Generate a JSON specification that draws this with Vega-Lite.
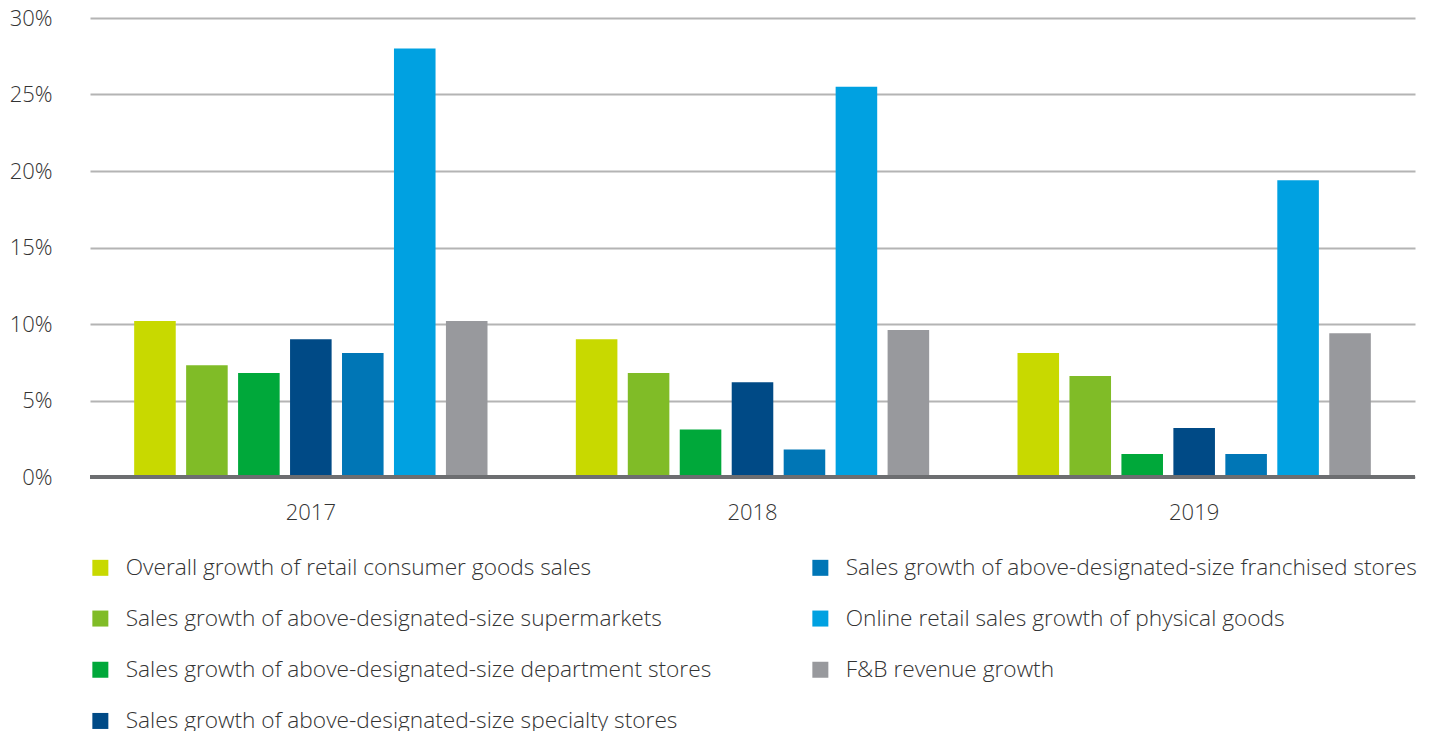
{
  "$schema": "https://vega.github.io/schema/vega-lite/v6.json",
  "width": 1325,
  "height": 459,
  "autosize": {"type": "none"},
  "padding": {"left": 90, "top": 18, "right": 22, "bottom": 254},
  "background": "white",
  "config": {
    "view": {"stroke": null},
    "font": "Open Sans",
    "axis": {"labelFont": "Open Sans", "labelFontWeight": 300, "labelColor": "#333333", "labelFontSize": 22}
  },
  "data": {
    "values": [
      {"year": "2017", "series": "Overall growth of retail consumer goods sales", "value": 10.2},
      {"year": "2017", "series": "Sales growth of above-designated-size supermarkets", "value": 7.3},
      {"year": "2017", "series": "Sales growth of above-designated-size department stores", "value": 6.8},
      {"year": "2017", "series": "Sales growth of above-designated-size specialty stores", "value": 9.0},
      {"year": "2017", "series": "Sales growth of above-designated-size franchised stores", "value": 8.1},
      {"year": "2017", "series": "Online retail sales growth of physical goods", "value": 28.0},
      {"year": "2017", "series": "F&B revenue growth", "value": 10.2},
      {"year": "2018", "series": "Overall growth of retail consumer goods sales", "value": 9.0},
      {"year": "2018", "series": "Sales growth of above-designated-size supermarkets", "value": 6.8},
      {"year": "2018", "series": "Sales growth of above-designated-size department stores", "value": 3.1},
      {"year": "2018", "series": "Sales growth of above-designated-size specialty stores", "value": 6.2},
      {"year": "2018", "series": "Sales growth of above-designated-size franchised stores", "value": 1.8},
      {"year": "2018", "series": "Online retail sales growth of physical goods", "value": 25.5},
      {"year": "2018", "series": "F&B revenue growth", "value": 9.6},
      {"year": "2019", "series": "Overall growth of retail consumer goods sales", "value": 8.1},
      {"year": "2019", "series": "Sales growth of above-designated-size supermarkets", "value": 6.6},
      {"year": "2019", "series": "Sales growth of above-designated-size department stores", "value": 1.5},
      {"year": "2019", "series": "Sales growth of above-designated-size specialty stores", "value": 3.2},
      {"year": "2019", "series": "Sales growth of above-designated-size franchised stores", "value": 1.5},
      {"year": "2019", "series": "Online retail sales growth of physical goods", "value": 19.4},
      {"year": "2019", "series": "F&B revenue growth", "value": 9.4}
    ]
  },
  "layer": [
    {
      "mark": {"type": "bar"},
      "encoding": {
        "x": {
          "field": "year", "type": "nominal",
          "scale": {"paddingInner": 0.2, "paddingOuter": 0.1},
          "axis": {"title": null, "labelAngle": 0, "ticks": false, "domain": false, "labelPadding": 25}
        },
        "xOffset": {
          "field": "series", "type": "nominal",
          "scale": {"paddingInner": 0.2, "domain": [
            "Overall growth of retail consumer goods sales",
            "Sales growth of above-designated-size supermarkets",
            "Sales growth of above-designated-size department stores",
            "Sales growth of above-designated-size specialty stores",
            "Sales growth of above-designated-size franchised stores",
            "Online retail sales growth of physical goods",
            "F&B revenue growth"
          ]}
        },
        "y": {
          "field": "value", "type": "quantitative",
          "scale": {"domain": [0, 30]},
          "axis": {
            "title": null, "values": [0, 5, 10, 15, 20, 25, 30],
            "labelExpr": "datum.value + '%'",
            "domain": false, "ticks": false, "labelPadding": 38,
            "grid": true, "gridColor": "#b4b4b4", "gridWidth": 2
          }
        },
        "color": {
          "field": "series", "type": "nominal",
          "scale": {
            "domain": [
              "Overall growth of retail consumer goods sales",
              "Sales growth of above-designated-size supermarkets",
              "Sales growth of above-designated-size department stores",
              "Sales growth of above-designated-size specialty stores",
              "Sales growth of above-designated-size franchised stores",
              "Online retail sales growth of physical goods",
              "F&B revenue growth"
            ],
            "range": ["#C8D900", "#80BC27", "#00A83A", "#004A86", "#0076B6", "#00A1E1", "#98999D"]
          },
          "legend": {
            "title": null,
            "orient": "none",
            "legendX": -1,
            "legendY": 538,
            "direction": "vertical",
            "columns": 2,
            "columnPadding": 97,
            "rowPadding": 27.2,
            "symbolType": "square",
            "symbolSize": 256,
            "symbolStrokeWidth": 0,
            "symbolOpacity": 1,
            "labelFont": "Open Sans",
            "labelFontWeight": 300,
            "labelFontSize": 22.7,
            "labelColor": "#333333",
            "labelOffset": 14,
            "labelLimit": 0
          }
        }
      }
    },
    {
      "mark": {"type": "rule", "color": "#6d6e71", "strokeWidth": 3},
      "encoding": {"y": {"datum": 0, "type": "quantitative"}}
    }
  ]
}
